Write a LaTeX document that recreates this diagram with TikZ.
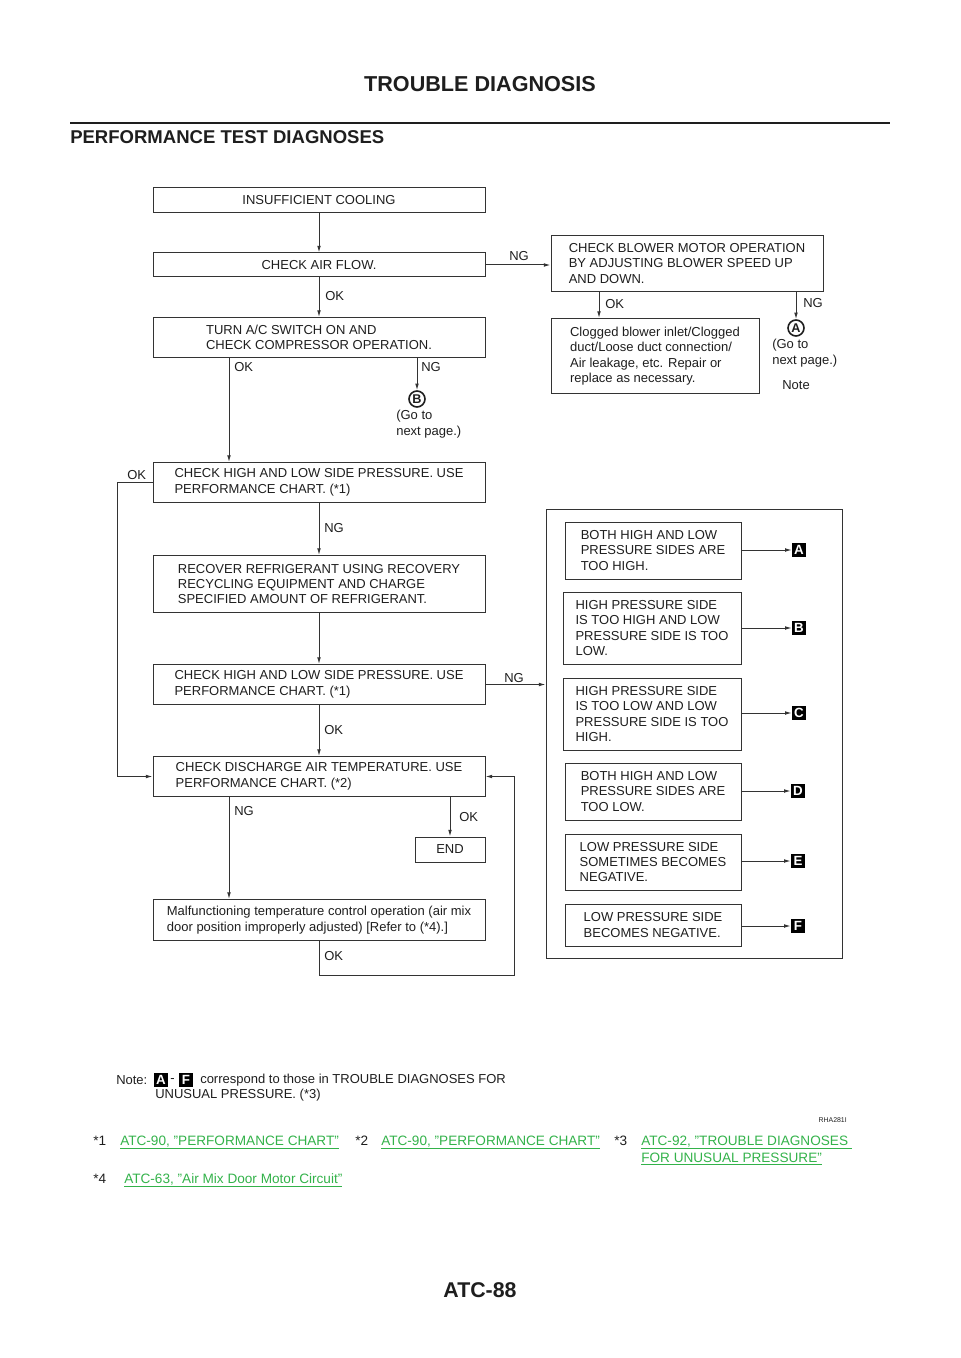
\documentclass[tikz,border=0pt]{standalone}
\usepackage{fontspec}
\setmainfont{Liberation Sans}
\usetikzlibrary{arrows.meta}
\definecolor{linec}{HTML}{333333}
\definecolor{txtc}{HTML}{1E1E1E}
\definecolor{linkc}{HTML}{33B24A}
\newcommand{\pxu}{0.75pt}
\newcommand{\boxfont}{\fontsize{9.75}{11.6}\selectfont}
\begin{document}
\begin{tikzpicture}[x=0.75pt,y=-0.75pt,
  every node/.style={text=txtc},
  bx/.style={draw=linec, line width=0.75pt, rectangle, inner sep=0pt, align=left, font=\boxfont},
  lbl/.style={anchor=west, inner sep=0pt, font=\boxfont, align=left},
  con/.style={draw=linec, line width=0.75pt},
  arr/.style={con, -{Latex[length=5pt,width=2.8pt]}},
  tag/.style={fill=black, text=white, inner sep=0pt, minimum width=14*\pxu, minimum height=14*\pxu, font=\bfseries\fontsize{10}{10}\selectfont},
  circ/.style={circle, draw=txtc, line width=1.2pt, inner sep=0pt, minimum size=16*\pxu, font=\bfseries\fontsize{9.5}{10}\selectfont},
  lnk/.style={anchor=base west, inner sep=0pt, text=linkc, font=\fontsize{10.2}{12}\selectfont},
  foot/.style={anchor=base west, inner sep=0pt, font=\fontsize{10.2}{12}\selectfont}
]
\useasboundingbox (0,0) rectangle (960,1358);

% headers
\node[font=\bfseries\fontsize{16.2}{18}\selectfont] (title) at (480,84) {TROUBLE DIAGNOSIS};
\draw[line width=2.2pt, color=txtc] (70,123) -- (890,123);
\node[anchor=west, inner sep=0pt, font=\bfseries\fontsize{13.9}{16}\selectfont] (sect) at (70,137) {PERFORMANCE TEST DIAGNOSES};
\node[font=\bfseries\fontsize{16}{18}\selectfont] (pageno) at (480,1290) {ATC-88};

% main boxes
\node[bx, minimum width=332*\pxu, minimum height=25*\pxu] (b1) at (319,200.5) {INSUFFICIENT COOLING};
\node[bx, minimum width=332*\pxu, minimum height=24*\pxu] (b2) at (319,265) {CHECK AIR FLOW.};
\node[bx, minimum width=332*\pxu, minimum height=40*\pxu] (b3) at (319,337.5) {TURN A/C SWITCH ON AND\\CHECK COMPRESSOR OPERATION.};
\node[bx, minimum width=272*\pxu, minimum height=56*\pxu] (b4) at (687,263.5) {CHECK BLOWER MOTOR OPERATION\\BY ADJUSTING BLOWER SPEED UP\\AND DOWN.};
\node[bx, minimum width=208*\pxu, minimum height=75*\pxu] (b5) at (655,356) {Clogged blower inlet/Clogged\\duct/Loose duct connection/\\Air leakage, etc. Repair or\\replace as necessary.};
\node[bx, minimum width=332*\pxu, minimum height=40*\pxu] (b6) at (319,482.5) {CHECK HIGH AND LOW SIDE PRESSURE. USE\\PERFORMANCE CHART. (*1)};
\node[bx, minimum width=332*\pxu, minimum height=57*\pxu] (b7) at (319,584) {RECOVER REFRIGERANT USING RECOVERY\\RECYCLING EQUIPMENT AND CHARGE\\SPECIFIED AMOUNT OF REFRIGERANT.};
\node[bx, minimum width=332*\pxu, minimum height=40*\pxu] (b8) at (319,684.5) {CHECK HIGH AND LOW SIDE PRESSURE. USE\\PERFORMANCE CHART. (*1)};
\node[bx, minimum width=332*\pxu, minimum height=40*\pxu] (b9) at (319,776.5) {CHECK DISCHARGE AIR TEMPERATURE. USE\\PERFORMANCE CHART. (*2)};
\node[bx, minimum width=70*\pxu, minimum height=25*\pxu] (b10) at (450,849.5) {END};
\node[bx, minimum width=332*\pxu, minimum height=41*\pxu] (b11) at (319,920) {Malfunctioning temperature control operation (air mix\\door position improperly adjusted) [Refer to (*4).]};

% right panel
\node[bx, minimum width=296*\pxu, minimum height=449*\pxu] (panel) at (694,733.5) {};
\node[bx, minimum width=176*\pxu, minimum height=57*\pxu] (pA) at (653,550.5) {BOTH HIGH AND LOW\\PRESSURE SIDES ARE\\TOO HIGH.};
\node[bx, minimum width=178*\pxu, minimum height=72*\pxu] (pB) at (652,628) {HIGH PRESSURE SIDE\\IS TOO HIGH AND LOW\\PRESSURE SIDE IS TOO\\LOW.};
\node[bx, minimum width=178*\pxu, minimum height=72*\pxu] (pC) at (652,714) {HIGH PRESSURE SIDE\\IS TOO LOW AND LOW\\PRESSURE SIDE IS TOO\\HIGH.};
\node[bx, minimum width=176*\pxu, minimum height=57*\pxu] (pD) at (653,791.5) {BOTH HIGH AND LOW\\PRESSURE SIDES ARE\\TOO LOW.};
\node[bx, minimum width=176*\pxu, minimum height=56*\pxu] (pE) at (653,862) {LOW PRESSURE SIDE\\SOMETIMES BECOMES\\NEGATIVE.};
\node[bx, minimum width=176*\pxu, minimum height=42*\pxu] (pF) at (653,925) {LOW PRESSURE SIDE\\BECOMES NEGATIVE.};
\node[tag] (tA) at (799,550) {A};
\node[tag] (tB) at (799,628) {B};
\node[tag] (tC) at (799,713) {C};
\node[tag] (tD) at (798,791) {D};
\node[tag] (tE) at (798,861) {E};
\node[tag] (tF) at (798,926) {F};
\foreach \s in {A,B,C,D,E,F} \draw[arr] (p\s.east |- t\s) -- (t\s.west);

% circled go-to markers
\node[circ] (cA) at (796,328) {A};
\node[lbl] (gA) at (772,353) {(Go to\\next page.)};
\node[lbl] (noteA) at (782,385.5) {Note};
\node[circ] (cB) at (417,399) {B};
\node[lbl] (gB) at (396,424) {(Go to\\next page.)};

% helper coordinates
\coordinate (xL) at (229,0);
\coordinate (xOK) at (599,0);
\coordinate (xLoop) at (117,0);
\coordinate (loopR) at (514,975);

% connectors
\draw[arr] (b1.south) -- (b2.north);
\draw[arr] (b2.east) -- (b2.east -| b4.west);
\node[lbl] (l1) at (509,256) {NG};
\draw[arr] (b2.south) -- (b3.north);
\node[lbl] (l2) at (325,296.5) {OK};
\draw[arr] (b4.south -| xOK) -- (b5.north -| xOK);
\node[lbl] (l3) at (605,304.5) {OK};
\draw[arr] (b4.south -| cA) -- (cA.north);
\node[lbl] (l4) at (803,303.5) {NG};
\draw[arr] (b3.south -| cB) -- (cB.north);
\node[lbl] (l5) at (421,367.5) {NG};
\draw[arr] (b3.south -| xL) -- (b6.north -| xL);
\node[lbl] (l6) at (234,367.5) {OK};
\draw[arr] (b6.south) -- (b7.north);
\node[lbl] (l7) at (324,528.5) {NG};
\draw[arr] (b6.west) -- (b6.west -| xLoop) |- (b9.west);
\node[lbl] (l8) at (127,475.5) {OK};
\draw[arr] (b7.south) -- (b8.north);
\draw[arr] (b8.east) -- (b8.east -| panel.west);
\node[lbl] (l9) at (504,678.5) {NG};
\draw[arr] (b8.south) -- (b9.north);
\node[lbl] (l10) at (324,730.5) {OK};
\draw[arr] (b9.south -| xL) -- (b11.north -| xL);
\node[lbl] (l11) at (234,811.5) {NG};
\draw[arr] (b9.south -| b10) -- (b10.north);
\node[lbl] (l12) at (459,817.5) {OK};
\draw[arr] (b11.south) |- (loopR) |- (b9.east);
\node[lbl] (l13) at (324,956.5) {OK};

% note
\node[lbl] (note) at (116,1080.5) {Note:};
\node[tag] (nA) at (161,1080) {A};
\node[lbl] (dash) at (170,1080.5) {-};
\node[tag] (nF) at (186,1080) {F};
\node[lbl] (note1) at (200,1080.5) {correspond to those in TROUBLE DIAGNOSES FOR};
\node[lbl] (note2) at (155,1095.5) {UNUSUAL PRESSURE. (*3)};
\node[anchor=east, inner sep=0pt, font=\fontsize{5.2}{6}\selectfont] (code) at (847,1120) {RHA281I};

% footer references
\node[foot] (s1) at (93,1145) {*1};
\node[lnk] (k1) at (120,1145) {\underline{ATC-90, "PERFORMANCE CHART"}};
\node[foot] (s2) at (355,1145) {*2};
\node[lnk] (k2) at (381,1145) {\underline{ATC-90, "PERFORMANCE CHART"}};
\node[foot] (s3) at (614,1145) {*3};
\node[lnk] (k3a) at (641,1145) {\underline{ATC-92, "TROUBLE DIAGNOSES\ }};
\node[lnk] (k3b) at (641,1162) {\underline{FOR UNUSUAL PRESSURE"}};
\node[foot] (s4) at (93,1183) {*4};
\node[lnk] (k4) at (124,1183) {\underline{ATC-63, "Air Mix Door Motor Circuit"}};
\end{tikzpicture}
\end{document}
